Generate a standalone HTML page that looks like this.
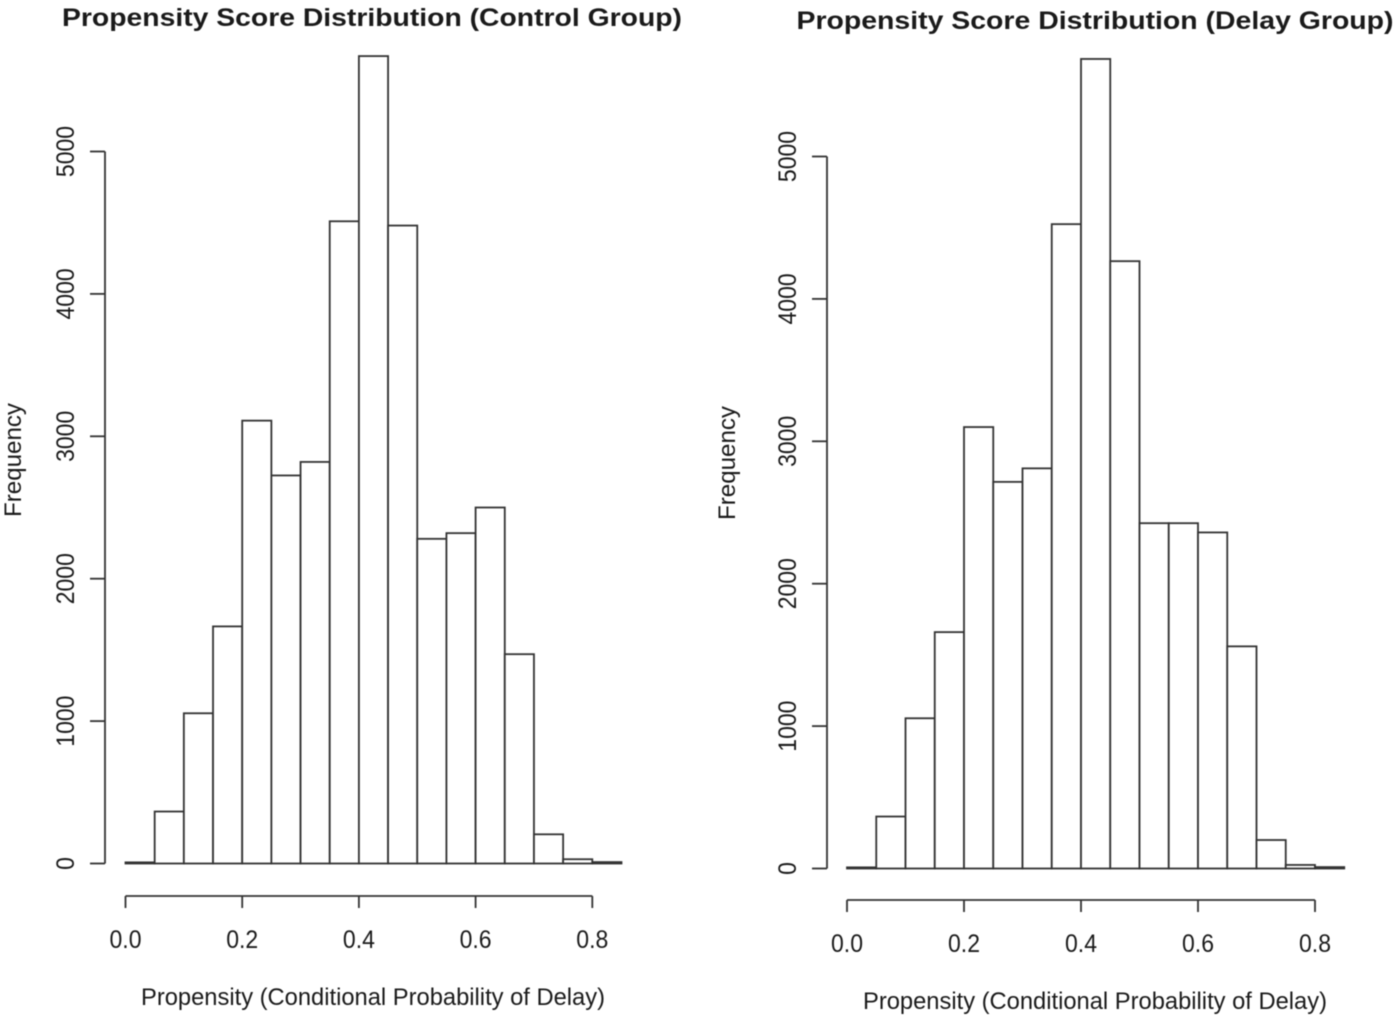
<!DOCTYPE html>
<html>
<head>
<meta charset="utf-8">
<title>Propensity Score Distribution</title>
<style>
html,body{margin:0;padding:0;background:#fff;width:1400px;height:1017px;overflow:hidden}
svg{display:block;filter:blur(0.5px)}
text{font-family:"Liberation Sans",Arial,sans-serif;fill:#1a1a1a}
</style>
</head>
<body>
<svg id="chart" xmlns="http://www.w3.org/2000/svg" width="1400" height="1017" viewBox="0 0 1400 1017"></svg>
<script>
const binWidth = 0.05;
const xTickLabels = ["0.0","0.2","0.4","0.6","0.8"];
const yTickLabels = ["0","1000","2000","3000","4000","5000"];
const controlCounts = [8,365,1055,1665,3110,2725,2820,4510,5670,4480,2280,2320,2500,1470,205,30,10];
const delayCounts = [8,365,1055,1660,3100,2715,2810,4525,5685,4265,2425,2425,2360,1560,200,25,10];

const svg = document.getElementById('chart');
const NS = 'http://www.w3.org/2000/svg';

function add(parent, tag, attrs, text) {
  const el = document.createElementNS(NS, tag);
  for (const k in attrs) el.setAttribute(k, attrs[k]);
  if (text !== undefined) el.textContent = text;
  parent.appendChild(el);
  return el;
}

function labelLength(s) {
  return s.split('').reduce((sum, c) => sum + (c === '.' ? 6.4 : 12.8), 0);
}

function drawPanel(cfg) {
  const g = add(svg, 'g', {});
  
  
  const xScale = v => cfg.x0 + v * cfg.xUnit;
  const yScale = v => cfg.y0 - v * cfg.yUnit;

  const title = add(g, 'text', {x: cfg.titleX, y: cfg.titleY, 'text-anchor': 'middle', 'font-size': 25, 'font-weight': 'bold', fill: '#111', textLength: cfg.titleLen, lengthAdjust: 'spacingAndGlyphs'}, cfg.title);
  
  

  cfg.values.forEach((v, i) => {
    const x1 = xScale(i * binWidth);
    const x2 = xScale((i + 1) * binWidth);
    const r = add(g, 'rect', {x: x1, y: yScale(v), width: x2 - x1, height: cfg.y0 - yScale(v), fill: '#fff', stroke: '#333', 'stroke-width': 1.8});
    
    
  });

  const xAxis = add(g, 'g', {stroke: '#333', 'stroke-width': 1.8, fill: 'none'});
  
  
  const xVals = xTickLabels.map(Number);
  add(xAxis, 'line', {x1: xScale(xVals[0]), x2: xScale(xVals[xVals.length - 1]), y1: cfg.xAxisY, y2: cfg.xAxisY});
  xTickLabels.forEach(l => {
    const px = xScale(Number(l));
    add(xAxis, 'line', {x1: px, x2: px, y1: cfg.xAxisY, y2: cfg.xAxisY + 12});
    const t = add(g, 'text', {x: px, y: cfg.xAxisY + 52, 'text-anchor': 'middle', 'font-size': 25, textLength: labelLength(l), lengthAdjust: 'spacingAndGlyphs'}, l);
    
    
  });

  const yAxis = add(g, 'g', {stroke: '#333', 'stroke-width': 1.8, fill: 'none'});
  
  
  const yVals = yTickLabels.map(Number);
  add(yAxis, 'line', {x1: cfg.yAxisX, x2: cfg.yAxisX, y1: yScale(yVals[0]), y2: yScale(yVals[yVals.length - 1])});
  yTickLabels.forEach(l => {
    const py = yScale(Number(l));
    add(yAxis, 'line', {x1: cfg.yAxisX - 15, x2: cfg.yAxisX, y1: py, y2: py});
    const tx = cfg.yAxisX - 31;
    const t = add(g, 'text', {x: tx, y: py, 'text-anchor': 'middle', 'font-size': 25, textLength: labelLength(l), lengthAdjust: 'spacingAndGlyphs', transform: 'rotate(-90 ' + tx + ' ' + py + ')'}, l);
    
    
  });

  const xt = add(g, 'text', {x: cfg.xTitleX, y: cfg.xTitleY, 'text-anchor': 'middle', 'font-size': 24, textLength: 464, lengthAdjust: 'spacingAndGlyphs'}, 'Propensity (Conditional Probability of Delay)');
  
  

  const yt = add(g, 'text', {x: cfg.yTitleX, y: cfg.yTitleY, 'text-anchor': 'middle', 'font-size': 24, textLength: 114, lengthAdjust: 'spacingAndGlyphs', transform: 'rotate(-90 ' + cfg.yTitleX + ' ' + cfg.yTitleY + ')'}, 'Frequency');
  
  
}

drawPanel({
  name: 'control-group-histogram',
  title: 'Propensity Score Distribution (Control Group)',
  values: controlCounts,
  x0: 125.5, xUnit: 583.5, y0: 863.5, yUnit: 0.1424,
  xAxisY: 896, yAxisX: 105,
  titleX: 372, titleY: 26, titleLen: 620,
  xTitleX: 373, xTitleY: 1005,
  yTitleX: 21, yTitleY: 460
});
drawPanel({
  name: 'delay-group-histogram',
  title: 'Propensity Score Distribution (Delay Group)',
  values: delayCounts,
  x0: 847, xUnit: 585, y0: 868.5, yUnit: 0.1424,
  xAxisY: 900, yAxisX: 827,
  titleX: 1095, titleY: 29, titleLen: 597,
  xTitleX: 1095, xTitleY: 1009,
  yTitleX: 735, yTitleY: 463
});
</script>
</body>
</html>
